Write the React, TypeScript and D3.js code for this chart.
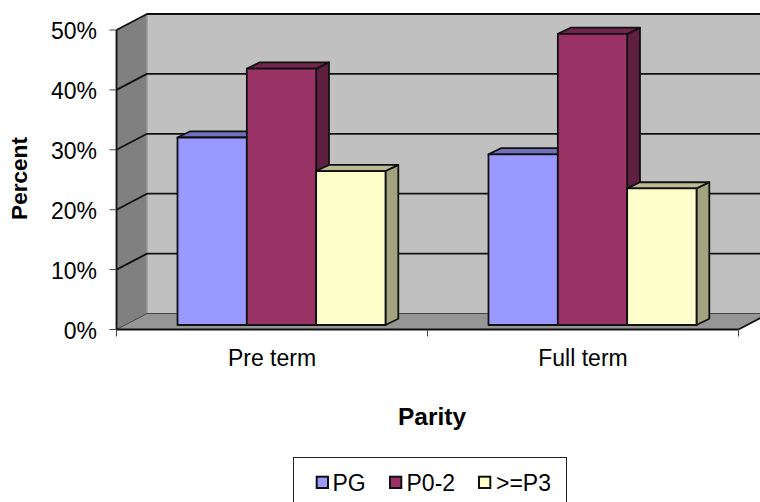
import React from "react";
import * as d3 from "d3";

const categories = ["Pre term", "Full term"];
const seriesNames = ["PG", "P0-2", ">=P3"];
const pg = [31.3, 28.5];
const p02 = [42.8, 48.6];
const p3 = [25.7, 22.8];
const yTicks = [0, 10, 20, 30, 40, 50];
const fills = ["#9999FF", "#993366", "#FFFFCC"];
const tops = ["#7070BB", "#70254B", "#BBBB96"];
const sides = ["#5E5E9E", "#5E1F40", "#A3A37F"];

const FONT = "'Liberation Sans', Arial, sans-serif";
const INK = "#111";

export default function App() {
  const series = [pg, p02, p3];
  const y = d3.scaleLinear().domain([0, 50]).range([329.5, 30]);
  const x = d3.scaleBand<string>().domain(categories).range([116.5, 738.5]);
  const dx = 30.5, dy = -16;
  const bx = 9.5, by = -4.5;
  const bdx = 12.8, bdy = -6.2;
  const groupW = 208;
  const inner = d3.scaleBand<string>().domain(seriesNames).range([0, groupW]);
  const poly = (p: number[][]) => p.map(q => q.join(",")).join(" ");
  const y0 = y(0), yT = y(50), xL = 116.5, xR = 738.5;
  const line = { stroke: INK, strokeWidth: 1.8, strokeLinejoin: "round" as const };
  return (
    <svg width={760} height={502} style={{ position: "absolute", left: 0, top: 0, background: "#fff" }} fontFamily={FONT}>
      <rect x={xL + dx} y={yT + dy} width={760 - xL - dx} height={y0 - yT} fill="#C0C0C0" />
      <polygon points={poly([[xL, y0], [xL + dx, y0 + dy], [xL + dx, yT + dy], [xL, yT]])} fill="#808080" />
      <polygon points={poly([[xL, y0], [xL + dx, y0 + dy], [xR + dx, y0 + dy], [xR, y0]])} fill="#969696" />
      <line x1={xL + dx} x2={xL + dx} y1={yT + dy} y2={y0 + dy} stroke="#9a9a9a" strokeWidth={1.5} />
      {yTicks.map(t => (
        <polyline key={t} fill="none" {...line}
          stroke={t === 0 ? "#444" : INK}
          strokeWidth={t === 0 ? 1 : 1.8}
          points={poly([[xL, y(t)], [xL + dx, y(t) + dy], [760, y(t) + dy]])} />
      ))}
      <line x1={xL} x2={xL} y1={yT} y2={y0} {...line} />
      <line x1={xL} x2={xR} y1={y0} y2={y0} {...line} />
      <line x1={xR} x2={xR + dx} y1={y0} y2={y0 + dy} {...line} />
      {yTicks.map(t => (
        <g key={t}>
          <line x1={xL - 7} x2={xL} y1={y(t)} y2={y(t)} stroke="#444" strokeWidth={1} />
          <text x={97} y={y(t) + 9} textAnchor="end" fontSize={23} fill="#000">{t}%</text>
        </g>
      ))}
      {[116.5, 427.5, 738.5].map(v => (
        <line key={v} x1={v} x2={v} y1={y0} y2={y0 + 7} stroke="#444" strokeWidth={1} />
      ))}
      {categories.map((c, ci) => {
        const gx = (x(c) as number) + x.bandwidth() / 2 - groupW / 2 + bx;
        const base = y0 + by;
        const barY = (v: number) => y(v) + by;
        return (
          <g key={c}>
            {seriesNames.map((s, si) => {
              const l = gx + (inner(s) as number);
              const r = l + inner.bandwidth();
              const t = barY(series[si][ci]);
              return (
                <g key={s} {...line}>
                  <polygon fill={sides[si]} points={poly([[r, t], [r + bdx, t + bdy], [r + bdx, base + bdy], [r, base]])} />
                  <polygon fill={tops[si]} points={poly([[l, t], [l + bdx, t + bdy], [r + bdx, t + bdy], [r, t]])} />
                  <rect x={l} y={t} width={r - l} height={base - t} fill={fills[si]} />
                </g>
              );
            })}
            <text x={(x(c) as number) + x.bandwidth() / 2} y={365.5} textAnchor="middle" fontSize={23} fill="#000">{c}</text>
          </g>
        );
      })}
      <text x={432} y={424.5} textAnchor="middle" fontSize={24.5} fontWeight="bold" fill="#000">Parity</text>
      <text transform="translate(27,178.5) rotate(-90)" textAnchor="middle" fontSize={22.6} fontWeight="bold" fill="#000">Percent</text>
      <rect x={293.5} y={457.5} width={273} height={60} fill="#fff" stroke="#222" strokeWidth={1} />
      {seriesNames.map((s, i) => {
        const lx = [316.7, 390, 479][i];
        const tx = [332.5, 406.5, 496][i];
        return (
          <g key={s}>
            <rect x={lx} y={476.7} width={11.3} height={11.3} fill={fills[i]} stroke={INK} strokeWidth={2} />
            <text x={tx} y={491} fontSize={23} fill="#000">{s}</text>
          </g>
        );
      })}
    </svg>
  );
}
